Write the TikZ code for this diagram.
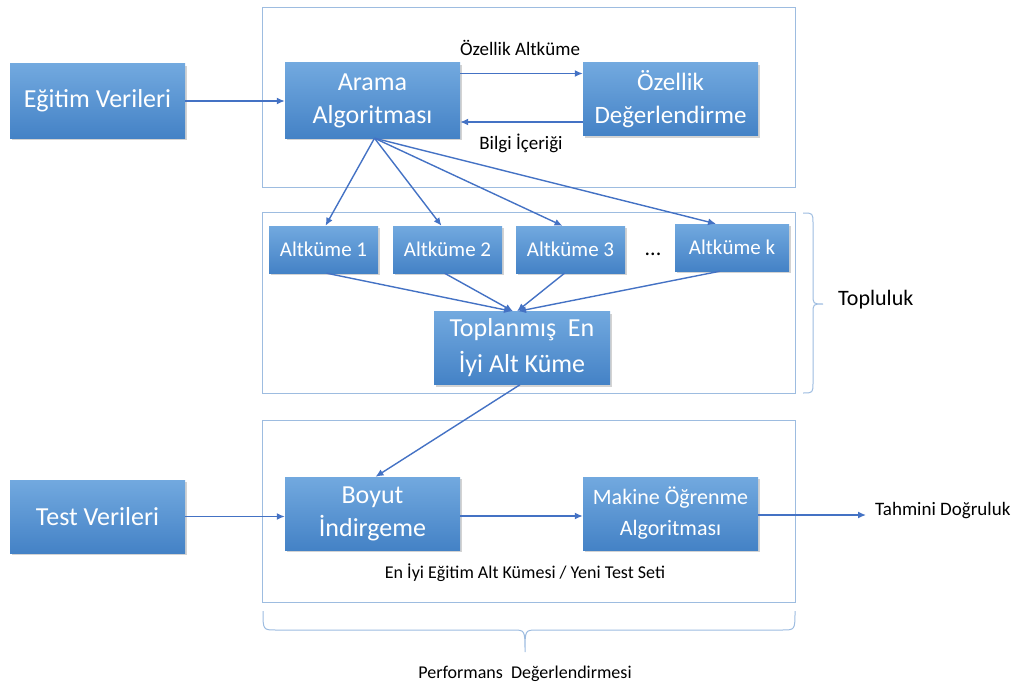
\documentclass[tikz,border=0pt]{standalone}
\usepackage{fontspec}
\setmainfont{Carlito}
\usetikzlibrary{arrows.meta,shadows,calc}

\definecolor{boxtop}{HTML}{72A9DF}
\definecolor{boxbot}{HTML}{4482C6}
\definecolor{framec}{HTML}{9DBCE0}
\definecolor{arrc}{HTML}{4472C4}

\tikzset{
  bluebox/.style={rectangle, draw=none, top color=boxtop, bottom color=boxbot,
    text=white, align=center, inner sep=0pt,
    drop shadow={opacity=0.35, shadow xshift=2pt, shadow yshift=-2pt}},
  bigtext/.style={font=\fontsize{26}{33}\selectfont},
  midtext/.style={font=\fontsize{22}{31}\selectfont},
  subtext/.style={font=\fontsize{21}{25}\selectfont},
  lbl/.style={font=\fontsize{19}{23}\selectfont, text=black, inner sep=0pt},
  frame/.style={draw=framec, line width=0.8pt},
  arr/.style={draw=arrc, line width=1.4pt, -{Latex[length=8pt,width=7pt]}},
  bracec/.style={draw=framec, line width=1pt}
}

\begin{document}
\begin{tikzpicture}[x=1pt,y=-1pt]
\useasboundingbox (0,0) rectangle (1022,690);

% the three section frames
\draw[frame] (262,7) rectangle (795,187);
\draw[frame] (262,212) rectangle (795,393);
\draw[frame] (262,420) rectangle (795,602);

% feature search stage
\node[bluebox, bigtext, minimum width=175, minimum height=74] (egitim) at (97.5,101) {Eğitim Verileri};
\node[bluebox, bigtext, minimum width=175, minimum height=75] (arama) at (372.5,100.5) {Arama\\Algoritması};
\node[bluebox, font=\fontsize{25}{33}\selectfont, minimum width=175, minimum height=73] (ozellik) at (670.5,99.5) {Özellik\\Değerlendirme};

% ensemble of subsets
\node[bluebox, subtext, minimum width=109, minimum height=47] (alt1) at (323.5,249.5) {Altküme 1};
\node[bluebox, subtext, minimum width=109, minimum height=47] (alt2) at (447.5,249.5) {Altküme 2};
\node[bluebox, subtext, minimum width=109, minimum height=47] (alt3) at (570.5,249.5) {Altküme 3};
\node[bluebox, subtext, minimum width=114, minimum height=47] (altk) at (732,247.5) {Altküme k};
\node[lbl, font=\fontsize{22}{26}\selectfont] (dots) at (653,254) {...};
\node[bluebox, font=\fontsize{26}{36}\selectfont, minimum width=176, minimum height=73] (toplam) at (522,348) {Toplanmış~~En\\İyi Alt Küme};

% evaluation stage
\node[bluebox, bigtext, minimum width=175, minimum height=73] (test) at (97.5,516.5) {Test Verileri};
\node[bluebox, bigtext, minimum width=175, minimum height=73] (boyut) at (372.5,513.5) {Boyut\\İndirgeme};
\node[bluebox, midtext, minimum width=175, minimum height=73] (makine) at (670.5,513.5) {Makine Öğrenme\\Algoritması};

% labels
\node[lbl] (lblAlt) at (520,48) {Özellik Altküme};
\node[lbl] (lblBilgi) at (521,143) {Bilgi İçeriği};
\node[lbl, font=\fontsize{18}{22}\selectfont] (lblEn) at (525,573) {En İyi Eğitim Alt Kümesi / Yeni Test Seti};
\node[lbl, anchor=west] (tahmin) at (875,511) {Tahmini Doğruluk};
\node[lbl, font=\fontsize{22}{26}\selectfont, anchor=west] (topluluk) at (838,300) {Topluluk};
\node[lbl, font=\fontsize{18}{22}\selectfont] (perf) at (525,674) {Performans~~Değerlendirmesi};
\coordinate (tahminend) at (866,515);

% connectors
\draw[arr] (egitim.east) -- (arama.west |- egitim.east);
\draw[arr] ($(arama.east)+(0,-27)$) -- ($(ozellik.west)+(0,-26)$);
\draw[arr] ($(ozellik.west)+(0,22.5)$) -- ($(arama.east)+(0,21.5)$);

\draw[arr] ($(arama.south)+(2,0)$) -- ($(alt1.north)+(2,0)$);
\draw[arr] ($(arama.south)+(2,0)$) -- ($(alt2.north)+(-6,0)$);
\draw[arr] ($(arama.south)+(2,0)$) -- ($(alt3.north)+(-8,0)$);
\draw[arr] ($(arama.south)+(2,0)$) -- ($(altk.north)+(-16,0)$);

\draw[arr] ($(alt1.south)+(3,0)$) -- ($(toplam.north)+(-10,0)$);
\draw[arr] ($(alt2.south)+(-3,0)$) -- ($(toplam.north)+(-9,0)$);
\draw[arr] ($(alt3.south)+(-6,0)$) -- ($(toplam.north)+(-5,0)$);
\draw[arr] ($(altk.south)+(-12,0)$) -- ($(toplam.north)+(-4,0)$);

\draw[arr] ($(toplam.south)+(-2,0)$) -- ($(boyut.north)+(3,0)$);

\draw[arr] (test.east) -- (boyut.west |- test.east);
\draw[arr] ($(boyut.east)+(0,2.5)$) -- ($(makine.west)+(0,2.5)$);
\draw[arr] ($(makine.east)+(0,1.5)$) -- (tahminend);

% braces
\draw[bracec] (803,213) .. controls (813,213) .. (813,224) -- (813,294)
  .. controls (813,304) .. (823,304) .. controls (813,304) .. (813,314)
  -- (813,382) .. controls (813,393) .. (803,393);
\draw[bracec] (263,611) .. controls (263,630) .. (276,630) -- (513,630)
  .. controls (525,630) .. (525,652) .. controls (525,630) .. (537,630)
  -- (782,630) .. controls (795,630) .. (795,611);
\end{tikzpicture}
\end{document}
